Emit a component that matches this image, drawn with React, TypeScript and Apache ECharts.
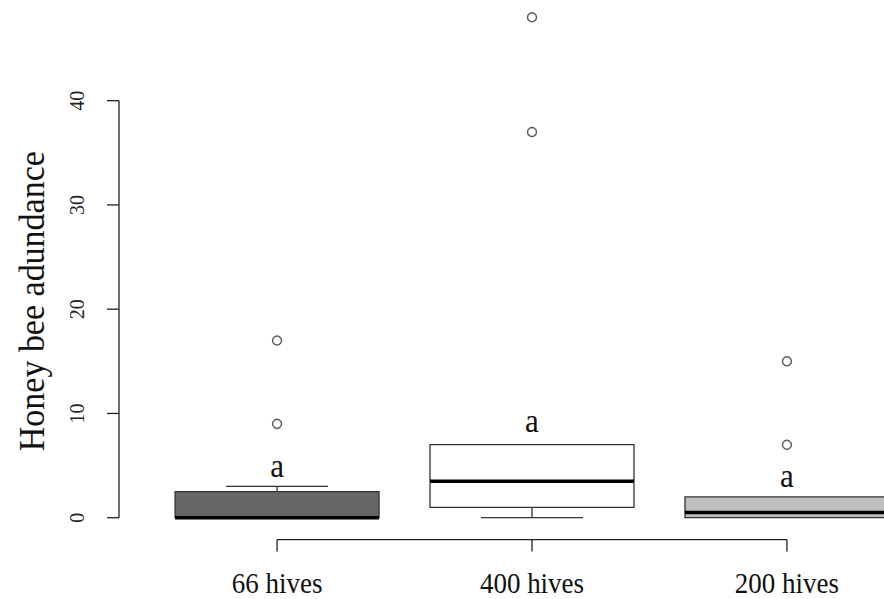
import React, { useEffect, useRef } from "react";
import * as echarts from "echarts";

// Groups and their box statistics (lower whisker, Q1, median, Q3, upper whisker)
const groups = ["66 hives", "400 hives", "200 hives"];
const lowerWhisker = [0, 0, 0];
const q1 = [0, 1, 0];
const median = [0, 3.5, 0.5];
const q3 = [2.5, 7, 2];
const upperWhisker = [3, 7, 2];
const outliers = [
  [9, 17],
  [37, 48],
  [7, 15],
];
const boxFills = ["#666666", "#ffffff", "#bebebe"];
const letters = ["a", "a", "a"];
const letterAt = [5, 9.3, 4];
const yTicks = [0, 10, 20, 30, 40];
const yTitle = "Honey bee adundance";

const SERIF = "'Liberation Serif', 'Times New Roman', serif";
const INK = "#222222";
const TEXT_STRETCH = 1.08;

// The plot region runs past the right edge of the visible frame, so the
// chart canvas is larger than the frame that clips it.
const FRAME_W = 884;
const FRAME_H = 599;
const SHIFT_Y = 20;

export default function App() {
  const ref = useRef<HTMLDivElement>(null);

  useEffect(() => {
    if (!ref.current) return;
    const chart = echarts.init(ref.current, null, { renderer: "svg" });

    const boxData = groups.map((_, i) => [
      i + 1,
      lowerWhisker[i],
      q1[i],
      median[i],
      q3[i],
      upperWhisker[i],
      i,
    ]);
    const outlierData: number[][] = [];
    outliers.forEach((vals, i) => vals.forEach((v) => outlierData.push([i + 1, v])));
    const letterData = letters.map((_, i) => [i + 1, letterAt[i], i]);

    const option: any = {
      animation: false,
      backgroundColor: "#ffffff",
      grid: { left: 119, top: SHIFT_Y - 3.6, width: 826, height: 543.2, containLabel: false },
      xAxis: {
        type: "value",
        min: 0.38,
        max: 3.62,
        show: false,
      },
      yAxis: {
        type: "value",
        min: -2.1,
        max: 50,
        show: false,
      },
      series: [
        {
          type: "custom",
          name: "boxes",
          data: boxData,
          clip: false,
          renderItem: (params: any, api: any) => {
            const x = api.value(0);
            const lw = api.value(1);
            const lo = api.value(2);
            const md = api.value(3);
            const hi = api.value(4);
            const uw = api.value(5);
            const idx = api.value(6);
            const half = api.size([0.4, 0])[0];
            const cap = half / 2;
            const pLw = api.coord([x, lw]);
            const pLo = api.coord([x, lo]);
            const pMd = api.coord([x, md]);
            const pHi = api.coord([x, hi]);
            const pUw = api.coord([x, uw]);
            const cx = pMd[0];
            const children: any[] = [];
            const lineStyle = { stroke: "#333333", lineWidth: 1.3 };
            if (uw > hi) {
              children.push({
                type: "line",
                shape: { x1: cx, y1: pHi[1], x2: cx, y2: pUw[1] },
                style: lineStyle,
              });
              children.push({
                type: "line",
                shape: { x1: cx - cap, y1: pUw[1], x2: cx + cap, y2: pUw[1] },
                style: lineStyle,
              });
            }
            if (lw < lo) {
              children.push({
                type: "line",
                shape: { x1: cx, y1: pLo[1], x2: cx, y2: pLw[1] },
                style: lineStyle,
              });
              children.push({
                type: "line",
                shape: { x1: cx - cap, y1: pLw[1], x2: cx + cap, y2: pLw[1] },
                style: lineStyle,
              });
            }
            children.push({
              type: "rect",
              shape: { x: cx - half, y: pHi[1], width: half * 2, height: pLo[1] - pHi[1] },
              style: { fill: boxFills[idx], stroke: "#333333", lineWidth: 1.3 },
            });
            children.push({
              type: "line",
              shape: { x1: cx - half, y1: pMd[1], x2: cx + half, y2: pMd[1] },
              style: { stroke: "#000000", lineWidth: 3.5 },
            });
            return { type: "group", children };
          },
          z: 2,
        },
        {
          type: "scatter",
          name: "outliers",
          data: outlierData,
          symbol: "circle",
          symbolSize: 9,
          itemStyle: { color: "#ffffff", borderColor: "#333333", borderWidth: 1.5 },
          z: 3,
        },
        {
          type: "custom",
          name: "letters",
          data: letterData,
          clip: false,
          renderItem: (params: any, api: any) => {
            const p = api.coord([api.value(0), api.value(1)]);
            return {
              type: "text",
              x: p[0],
              y: p[1],
              scaleY: TEXT_STRETCH,
              style: {
                text: letters[api.value(2)],
                font: `31px ${SERIF}`,
                fill: "#111111",
                align: "center",
                verticalAlign: "middle",
              },
            };
          },
          z: 4,
        },
        {
          type: "custom",
          name: "axes",
          data: [[0]],
          clip: false,
          renderItem: (params: any, api: any) => {
            const cs = params.coordSys;
            const axisX = cs.x;
            const axisY = cs.y + cs.height;
            const children: any[] = [];
            const ls = { stroke: INK, lineWidth: 1.3 };
            // left axis
            const top = api.coord([1, yTicks[yTicks.length - 1]])[1];
            const bot = api.coord([1, yTicks[0]])[1];
            children.push({ type: "line", shape: { x1: axisX, y1: top, x2: axisX, y2: bot }, style: ls });
            yTicks.forEach((t) => {
              const y = api.coord([1, t])[1];
              children.push({ type: "line", shape: { x1: axisX - 12, y1: y, x2: axisX, y2: y }, style: ls });
              children.push({
                type: "text",
                x: axisX - 42,
                y,
                rotation: Math.PI / 2,
                scaleY: TEXT_STRETCH,
                style: {
                  text: String(t),
                  font: `20px ${SERIF}`,
                  fill: INK,
                  align: "center",
                  verticalAlign: "middle",
                },
              });
            });
            children.push({
              type: "text",
              x: axisX - 87,
              y: api.coord([1, 20])[1] - 8,
              rotation: Math.PI / 2,
              scaleY: TEXT_STRETCH,
              style: {
                text: yTitle,
                font: `34px ${SERIF}`,
                fill: "#111111",
                align: "center",
                verticalAlign: "middle",
              },
            });
            // bottom axis
            const xl = api.coord([1, 0])[0];
            const xr = api.coord([groups.length, 0])[0];
            children.push({ type: "line", shape: { x1: xl, y1: axisY, x2: xr, y2: axisY }, style: ls });
            groups.forEach((g, i) => {
              const x = api.coord([i + 1, 0])[0];
              children.push({ type: "line", shape: { x1: x, y1: axisY, x2: x, y2: axisY + 12 }, style: ls });
              children.push({
                type: "text",
                x,
                y: axisY + 44,
                scaleY: TEXT_STRETCH,
                style: {
                  text: g,
                  font: `27px ${SERIF}`,
                  fill: "#111111",
                  align: "center",
                  verticalAlign: "middle",
                },
              });
            });
            return { type: "group", children };
          },
          z: 5,
        },
      ],
    };

    chart.setOption(option);
    return () => chart.dispose();
  }, []);

  return (
    <div
      style={{
        position: "absolute",
        left: 0,
        top: 0,
        width: FRAME_W,
        height: FRAME_H,
        overflow: "hidden",
        background: "#ffffff",
      }}
    >
      <div
        ref={ref}
        style={{ position: "absolute", left: 0, top: -SHIFT_Y, width: 980, height: 660 }}
      />
    </div>
  );
}
